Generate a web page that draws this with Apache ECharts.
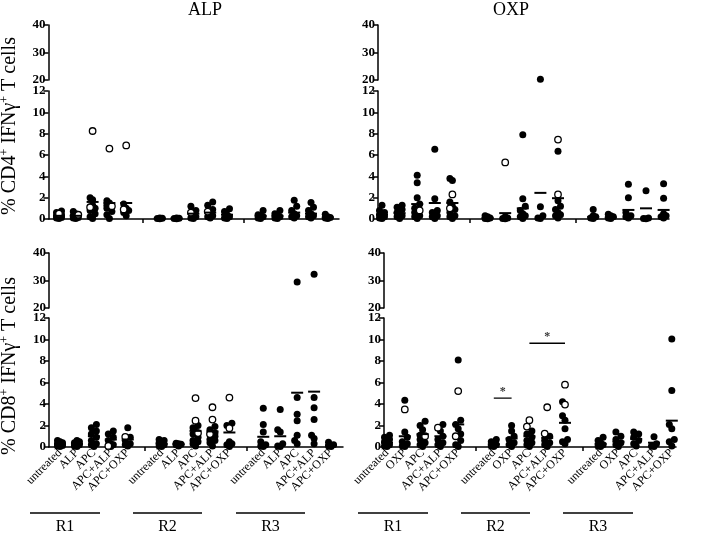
<!DOCTYPE html>
<html><head><meta charset="utf-8">
<script src="https://cdn.jsdelivr.net/npm/echarts@6/dist/echarts.min.js"></script>
<style>html,body{margin:0;padding:0;background:#fff}#c{width:709px;height:534px}</style>
</head><body><div id="c"></div>
<script>
// ---------------- DATA ----------------
const regions = ['R1', 'R2', 'R3'];
const alpTreatments = ['untreated', 'ALP', 'APC', 'APC+ALP', 'APC+OXP'];
const oxpTreatments = ['untreated', 'OXP', 'APC', 'APC+ALP', 'APC+OXP'];
const lowerTicks = [0, 12, 2];   // min, max, step of lower segment
const upperTicks = [20, 40, 10]; // min, max, step of upper segment

// 15 groups each: R1 x5 treatments, R2 x5, R3 x5
const cd4AlpFilled = [
  [0.05,0.1,0.15,0.2,0.3,0.4,0.6,0.75],
  [0.05,0.1,0.15,0.2,0.3,0.5,0.7],
  [0.05,0.2,0.5,0.8,1.0,1.3,1.8,2.0],
  [0.05,0.4,0.7,1.0,1.3,1.5,1.7],
  [0.3,0.6,0.8,1.0,1.4],
  [0.02,0.05,0.08,0.1],
  [0.02,0.05,0.08,0.1],
  [0.05,0.1,0.2,0.4,0.8,1.2],
  [0.1,0.2,0.3,0.5,0.9,1.3,1.6],
  [0.05,0.1,0.2,0.4,0.7,0.95],
  [0.05,0.1,0.2,0.3,0.4,0.8],
  [0.05,0.1,0.2,0.3,0.5,0.8],
  [0.1,0.2,0.3,0.5,0.8,1.2,1.75],
  [0.1,0.2,0.3,0.5,0.8,1.1,1.55],
  [0.05,0.1,0.15,0.2,0.45]
];
const cd4AlpOpen = [[0.5],[0.4],[1.1,8.25],[1.2,6.6],[0.9,6.9],[],[],[0.6],[0.7],[],[],[],[],[],[]];
const cd4AlpMean = [0.3,0.3,1.6,1.5,1.5, 0.05,0.05,0.5,0.6,0.4, 0.3,0.3,0.6,0.5,0.15];

const cd4OxpFilled = [
  [0.05,0.1,0.2,0.3,0.4,0.6,0.8,1.3],
  [0.05,0.2,0.3,0.4,0.6,0.9,1.1,1.3],
  [0.05,0.2,0.3,0.6,1.0,1.4,2.0,3.4,4.1],
  [0.05,0.2,0.3,0.6,0.8,1.9,6.55],
  [0.05,0.2,0.3,0.6,0.9,1.2,1.6,3.6,3.8],
  [0.02,0.05,0.1,0.2,0.3],
  [0.02,0.05,0.1,0.2],
  [0.05,0.2,0.3,0.5,0.8,1.2,1.9,7.9],
  [0.05,0.1,0.3,1.15,20.3],
  [0.1,0.3,0.4,0.6,0.9,1.2,1.7,6.35],
  [0.05,0.1,0.2,0.3,0.9],
  [0.05,0.1,0.2,0.3,0.45],
  [0.1,0.2,0.3,0.6,2.0,3.25],
  [0.02,0.05,0.1,2.65],
  [0.1,0.2,0.3,0.5,1.95,3.3]
];
const cd4OxpOpen = [[],[],[0.8],[],[1.0,2.3],[],[5.3],[],[],[7.45,2.3],[],[],[],[],[]];
const cd4OxpMean = [0.4,0.55,1.4,1.5,1.5, 0.1,0.55,1.0,2.45,1.95, 0.2,0.15,0.85,1.0,0.85];

const cd8AlpFilled = [
  [0.05,0.1,0.15,0.2,0.3,0.4,0.5,0.6],
  [0.05,0.1,0.2,0.3,0.4,0.5,0.6],
  [0.05,0.2,0.3,0.6,0.9,1.2,1.5,1.8,2.1],
  [0.05,0.2,0.3,0.6,0.9,1.2,1.5],
  [0.1,0.2,0.3,0.6,0.9,1.8],
  [0.05,0.1,0.2,0.3,0.4,0.6,0.7],
  [0.1,0.2,0.25,0.3,0.35],
  [0.1,0.3,0.5,0.6,0.9,1.2,1.5,1.8,2.0],
  [0.1,0.4,0.6,0.7,1.0,1.3,1.6,1.9],
  [0.05,0.2,0.3,0.5,2.0,2.2],
  [0.05,0.1,0.2,0.5,1.4,2.1,3.6],
  [0.05,0.1,0.3,1.4,1.6,3.5],
  [0.3,0.6,1.1,2.45,3.05,4.6,29.5],
  [0.3,0.8,1.1,2.55,3.65,4.6,32.3],
  [0.05,0.1,0.2,0.45]
];
const cd8AlpOpen = [[],[],[],[0.1],[0.95],[],[],[4.55,2.45,1.3],[3.7,2.55,1.2],[4.6,1.75],[],[],[],[],[]];
const cd8AlpMean = [0.3,0.3,1.0,0.7,0.7, 0.3,0.25,1.5,1.45,1.35, 0.95,1.0,5.05,5.15,0.15];

const cd8OxpFilled = [
  [0.05,0.1,0.2,0.3,0.5,0.7,0.9,1.1],
  [0.05,0.1,0.3,0.5,0.9,1.4,4.35],
  [0.05,0.2,0.4,0.7,1.1,1.6,2.0,2.4],
  [0.05,0.2,0.4,0.7,1.0,1.5,2.1],
  [0.05,0.2,0.6,1.2,1.7,2.1,2.5,8.1],
  [0.05,0.1,0.2,0.3,0.5,0.7],
  [0.05,0.2,0.4,0.7,1.0,1.5,2.0],
  [0.05,0.2,0.4,0.6,0.9,1.2,1.5],
  [0.05,0.2,0.4,0.6,1.0],
  [0.3,0.5,0.7,1.7,2.5,2.9,4.2],
  [0.05,0.1,0.2,0.4,0.6,0.9],
  [0.05,0.2,0.4,0.7,1.0,1.4],
  [0.1,0.3,0.6,0.9,1.2,1.4],
  [0.05,0.1,0.3,0.95],
  [0.1,0.5,0.7,1.7,2.1,5.25,10.05]
];
const cd8OxpOpen = [[],[3.5],[1.0],[1.8],[5.2,1.0],[],[],[2.5,1.9],[3.7,1.25],[5.8,3.95],[],[],[],[],[]];
const cd8OxpMean = [0.4,1.0,1.2,1.0,2.1, 0.25,0.8,1.0,0.85,2.25, 0.3,0.5,0.75,0.4,2.45];

// significance bars: region, from treatment, to treatment, height
const cd8OxpSigRegion = ['R2', 'R2'];
const cd8OxpSigFrom = ['untreated', 'APC'];
const cd8OxpSigTo = ['OXP', 'APC+OXP'];
const cd8OxpSigY = [4.55, 9.65];

// ---------------- LAYOUT ----------------
const FONT = '"Liberation Serif", "Times New Roman", serif';
const panels = [
  {filled: cd4AlpFilled, open: cd4AlpOpen, mean: cd4AlpMean, treat: alpTreatments,
   axisL: 48.5, axisR: 339, first: 59, step: 16.8, upTop: 25, upBot: 80, loTop: 91, loBot: 219, labels: false, sig: null},
  {filled: cd4OxpFilled, open: cd4OxpOpen, mean: cd4OxpMean, treat: oxpTreatments,
   axisL: 378, axisR: 669, first: 382, step: 17.6, upTop: 25, upBot: 80, loTop: 91, loBot: 219, labels: false, sig: null},
  {filled: cd8AlpFilled, open: cd8AlpOpen, mean: cd8AlpMean, treat: alpTreatments,
   axisL: 49, axisR: 343, first: 60, step: 16.94, upTop: 253, upBot: 308, loTop: 318, loBot: 447, labels: true, sig: null},
  {filled: cd8OxpFilled, open: cd8OxpOpen, mean: cd8OxpMean, treat: oxpTreatments,
   axisL: 384, axisR: 676, first: 387, step: 17.8, upTop: 253, upBot: 308, loTop: 318, loBot: 447, labels: true,
   sig: {region: cd8OxpSigRegion, from: cd8OxpSigFrom, to: cd8OxpSigTo, y: cd8OxpSigY}}
];

function slotOf(g) { return Math.floor(g / 5) * 6 + (g % 5); }
function slotOfNames(treat, region, name) { return regions.indexOf(region) * 6 + treat.indexOf(name); }

const grids = [], xAxes = [], yAxes = [], series = [];
const axisLineStyle = {color: '#000', width: 1.5};

panels.forEach((p, pi) => {
  const xmin = -(p.first - p.axisL) / p.step;
  const xmax = (p.axisR - p.first) / p.step;
  const up = pi * 2, lo = pi * 2 + 1;
  grids.push({left: p.axisL, top: p.upTop, width: p.axisR - p.axisL, height: p.upBot - p.upTop});
  grids.push({left: p.axisL, top: p.loTop, width: p.axisR - p.axisL, height: p.loBot - p.loTop});
  xAxes.push({type: 'value', gridIndex: up, min: xmin, max: xmax, show: false});
  const labelVals = [];
  for (let s = 0; s <= 16; s++) if (s % 6 !== 5) labelVals.push(s);
  xAxes.push({type: 'value', gridIndex: lo, min: xmin, max: xmax,
    axisLine: {onZero: false, lineStyle: axisLineStyle},
    axisTick: {show: true, customValues: [5, 11], length: 4, lineStyle: axisLineStyle},
    axisLabel: {show: p.labels, customValues: labelVals, rotate: 45, margin: 4, interval: 0,
      showMinLabel: true, showMaxLabel: true, hideOverlap: false,
      fontFamily: FONT, fontSize: 12, color: '#000',
      formatter: v => p.treat[Math.round(v) % 6] || ''},
    splitLine: {show: false}});
  const yCommon = {
    axisLine: {show: true, onZero: false, lineStyle: axisLineStyle},
    axisTick: {show: true, length: 5, lineStyle: axisLineStyle},
    axisLabel: {fontFamily: FONT, fontSize: 13, fontWeight: 'bold', color: '#000', margin: 3},
    splitLine: {show: false}};
  yAxes.push(Object.assign({type: 'value', gridIndex: up, min: upperTicks[0], max: upperTicks[1], interval: upperTicks[2]}, yCommon));
  yAxes.push(Object.assign({type: 'value', gridIndex: lo, min: lowerTicks[0], max: lowerTicks[1], interval: lowerTicks[2]}, yCommon));

  const loPPU = (p.loBot - p.loTop) / (lowerTicks[1] - lowerTicks[0]);
  const upPPU = (p.upBot - p.upTop) / (upperTicks[1] - upperTicks[0]);
  const buckets = {loF: [], loO: [], upF: [], upO: []};
  p.filled.forEach((vals, g) => {
    const pts = vals.map(v => ({v, open: false})).concat(p.open[g].map(v => ({v, open: true})));
    pts.forEach(q => { q.py = q.v <= 12 ? q.v * loPPU : 1000 + (q.v - 20) * upPPU; });
    pts.sort((a, b) => a.v - b.v);
    const placed = [];
    pts.forEach(q => {
      const cands = [0, -2.5, 2.5];
      let best = 0, bestD = -1;
      for (const c of cands) {
        let md = Infinity;
        placed.forEach(r => { md = Math.min(md, Math.hypot(c - r.dx, q.py - r.py)); });
        if (md >= 5) { best = c; bestD = md; break; }
        if (md > bestD) { bestD = md; best = c; }
      }
      q.dx = best; placed.push(q);
      const item = {value: [slotOf(g), q.v], symbolOffset: [q.dx, 0]};
      const key = (q.v <= 12 ? 'lo' : 'up') + (q.open ? 'O' : 'F');
      buckets[key].push(item);
    });
  });
  const filledStyle = {color: '#000', opacity: 1};
  const openStyle = {color: '#fff', borderColor: '#000', borderWidth: 1.3, opacity: 1};
  series.push({type: 'scatter', xAxisIndex: lo, yAxisIndex: lo, symbolSize: 7, itemStyle: filledStyle, data: buckets.loF, z: 2});
  series.push({type: 'scatter', xAxisIndex: lo, yAxisIndex: lo, symbolSize: 6.5, itemStyle: openStyle, data: buckets.loO, z: 3});
  series.push({type: 'scatter', xAxisIndex: up, yAxisIndex: up, symbolSize: 7, itemStyle: filledStyle, data: buckets.upF, z: 2});
  series.push({type: 'scatter', xAxisIndex: up, yAxisIndex: up, symbolSize: 6.5, itemStyle: openStyle, data: buckets.upO, z: 3});
  series.push({type: 'scatter', xAxisIndex: lo, yAxisIndex: lo, symbol: 'rect', symbolSize: [12, 2],
    itemStyle: {color: '#000', opacity: 1}, data: p.mean.map((m, g) => [slotOf(g), m]), z: 4});
  if (p.sig) {
    p.sig.y.forEach((y, i) => {
      const a = slotOfNames(p.treat, p.sig.region[i], p.sig.from[i]);
      const b = slotOfNames(p.treat, p.sig.region[i], p.sig.to[i]);
      series.push({type: 'line', xAxisIndex: lo, yAxisIndex: lo, symbol: 'none',
        lineStyle: {color: '#000', width: 1.3}, data: [[a, y], [b, y]], z: 4});
      series.push({type: 'scatter', xAxisIndex: lo, yAxisIndex: lo, symbolSize: 1, itemStyle: {color: 'rgba(0,0,0,0)'},
        label: {show: true, position: 'top', distance: 0, formatter: '*', fontFamily: FONT, fontSize: 12, fontWeight: 'bold', color: '#000'},
        data: [[(a + b) / 2, y]], z: 4});
    });
  }
});

// decorations: titles, axis names, region bars
const graphics = [];
function txt(x, y, text, size, extra) {
  graphics.push(Object.assign({type: 'text', x, y, style: {text, fontFamily: FONT, fontSize: size, fill: '#000', align: 'center', verticalAlign: 'middle'}}, extra || {}));
}
txt(205, 10, 'ALP', 18);
txt(511, 10, 'OXP', 18);
const supRich = {s: {fontSize: 12, fontFamily: FONT, verticalAlign: 'top', lineHeight: 12}};
graphics.push({type: 'text', x: 10, y: 126, rotation: Math.PI / 2,
  style: {text: '% CD4{s|+} IFNγ{s|+} T cells', rich: supRich, fontFamily: FONT, fontSize: 20, lineHeight: 22, fill: '#000', align: 'center', verticalAlign: 'middle'}});
graphics.push({type: 'text', x: 10, y: 366, rotation: Math.PI / 2,
  style: {text: '% CD8{s|+} IFNγ{s|+} T cells', rich: supRich, fontFamily: FONT, fontSize: 20, lineHeight: 22, fill: '#000', align: 'center', verticalAlign: 'middle'}});
const regionBars = [[[30, 100], [133, 202], [236, 305]], [[358, 428], [461, 530], [563, 633]]];
regionBars.forEach(side => side.forEach((seg, i) => {
  graphics.push({type: 'line', shape: {x1: seg[0], y1: 513, x2: seg[1], y2: 513}, style: {stroke: '#000', lineWidth: 1.5}});
  txt((seg[0] + seg[1]) / 2, 527, regions[i], 16);
}));

const chart = echarts.init(document.getElementById('c'));
chart.setOption({
  animation: false,
  backgroundColor: '#fff',
  grid: grids, xAxis: xAxes, yAxis: yAxes, series: series,
  graphic: graphics
});
</script></body></html>
